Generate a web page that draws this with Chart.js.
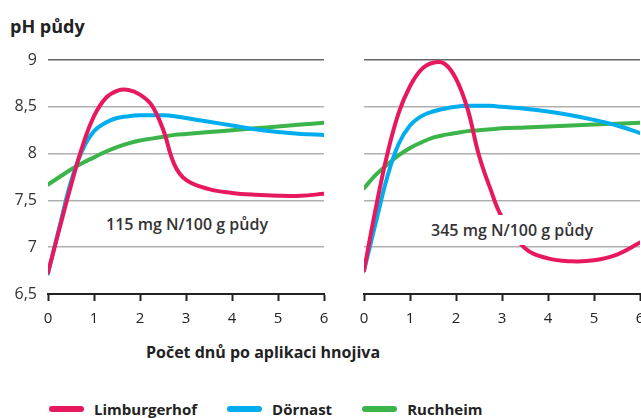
<!DOCTYPE html>
<html>
<head>
<meta charset="utf-8">
<script src="https://cdn.jsdelivr.net/npm/chart.js@4.4.1/dist/chart.umd.min.js"></script>
<style>
  body { margin: 0; width: 641px; height: 418px; overflow: hidden; position: relative; background: #fff; font-family: "Open Sans", sans-serif; color: #222; }
  canvas { position: absolute; top: 0; }
  #lowChart { left: 0; }
  #highChart { left: 330px; }
  #title { position: absolute; left: 10px; top: 14px; font-size: 18px; font-weight: 700; }
  .note { position: absolute; font-size: 16px; font-weight: 600; color: #333; background: #fff; padding: 4px 3px; transform: translate(-50%, -50%); white-space: nowrap; }
  #lowNote { left: 187px; top: 224px; }
  #highNote { left: 512px; top: 230px; }
  #xTitle { position: absolute; left: 263px; top: 352px; transform: translate(-50%, -50%); font-size: 16px; font-weight: 700; white-space: nowrap; }
  #legend { position: absolute; left: 49px; top: 399px; display: flex; align-items: center; font-size: 15px; font-weight: 700; }
  .item { display: flex; align-items: center; margin-right: 30px; }
  .swatch { width: 35px; height: 6px; border-radius: 3px; margin-right: 10px; }
</style>
</head>
<body>
<div id="title">pH půdy</div>
<canvas id="lowChart" width="330" height="340"></canvas>
<canvas id="highChart" width="330" height="340"></canvas>
<div class="note" id="lowNote"></div>
<div class="note" id="highNote"></div>
<div id="xTitle">Počet dnů po aplikaci hnojiva</div>
<div id="legend"></div>
<script>
// days after fertilising (shared sample points for every curve)
const days = [0, 0.25, 0.5, 0.75, 1, 1.25, 1.5, 1.75, 2, 2.25, 2.5, 2.75, 3, 3.5, 4, 4.5, 5, 5.5, 6];

const seriesNames = ['Limburgerhof', 'Dörnast', 'Ruchheim'];
const seriesColors = ['#E8185E', '#00AEEF', '#3BB44A'];
const rateLabels = ['115 mg N/100 g půdy', '345 mg N/100 g půdy'];

// 115 mg N / 100 g
const limburgerhof115 = [6.73, 7.2, 7.66, 8.08, 8.4, 8.59, 8.67, 8.68, 8.63, 8.52, 8.26, 7.88, 7.72, 7.62, 7.58, 7.56, 7.55, 7.55, 7.57];
const dornast115 = [6.72, 7.22, 7.7, 8.04, 8.24, 8.33, 8.38, 8.4, 8.41, 8.41, 8.41, 8.4, 8.38, 8.34, 8.3, 8.26, 8.23, 8.21, 8.2];
const ruchheim115 = [7.67, 7.75, 7.83, 7.9, 7.96, 8.02, 8.07, 8.11, 8.14, 8.16, 8.18, 8.2, 8.21, 8.23, 8.25, 8.27, 8.29, 8.31, 8.33];

// 345 mg N / 100 g
const limburgerhof345 = [6.75, 7.4, 7.98, 8.43, 8.72, 8.9, 8.97, 8.96, 8.8, 8.48, 7.98, 7.62, 7.32, 6.99, 6.88, 6.85, 6.86, 6.92, 7.05];
const dornast345 = [6.75, 7.25, 7.74, 8.1, 8.3, 8.4, 8.45, 8.48, 8.5, 8.51, 8.51, 8.51, 8.5, 8.48, 8.45, 8.41, 8.36, 8.3, 8.22];
const ruchheim345 = [7.63, 7.77, 7.88, 7.98, 8.06, 8.12, 8.17, 8.2, 8.22, 8.24, 8.25, 8.26, 8.27, 8.28, 8.29, 8.3, 8.31, 8.32, 8.33];

const xTicks = [0, 1, 2, 3, 4, 5, 6];
const yTicks = [6.5, 7, 7.5, 8, 8.5, 9];

function panel(id, values, showY) {
    return new Chart(document.getElementById(id), {
        type: 'line',
        data: {
            datasets: values.map((vals, i) => ({
                label: seriesNames[i],
                data: vals.map((y, j) => ({ x: days[j], y: y })),
                borderColor: seriesColors[i],
                borderWidth: 4,
                pointRadius: 0,
                borderCapStyle: 'round',
                tension: 0.4
            }))
        },
        options: {
            responsive: false,
            animation: false,
            devicePixelRatio: 1,
            layout: { padding: showY ? { top: 60, right: 6 } : { top: 60, left: 34, right: 20 } },
            plugins: { legend: { display: false }, tooltip: { enabled: false } },
            scales: {
                x: {
                    type: 'linear', min: 0, max: 6,
                    afterBuildTicks: s => { s.ticks = xTicks.map(v => ({ value: v })); },
                    afterFit: s => { s.height = 46; s.paddingLeft = 0; s.paddingRight = 0; },
                    grid: { drawOnChartArea: false, tickLength: 7, tickWidth: 2, tickColor: '#222' },
                    border: { color: '#222', width: 2 },
                    ticks: { padding: 9, color: '#222', font: { family: 'Open Sans', size: 15 } }
                },
                y: {
                    min: 6.5, max: 9,
                    afterBuildTicks: s => { s.ticks = yTicks.map(v => ({ value: v })); },
                    afterFit: s => { s.width = showY ? 48 : 0; s.paddingTop = 0; s.paddingBottom = 0; },
                    grid: {
                        drawTicks: false, lineWidth: 1.5,
                        color: c => c.tick.value === 9 ? '#666' : (c.tick.value === 6.5 ? 'rgba(0,0,0,0)' : '#b0b0b0')
                    },
                    border: { display: false },
                    ticks: {
                        display: showY, padding: 11, color: '#333',
                        font: { family: 'Open Sans', size: 16 },
                        callback: v => String(v).replace('.', ',')
                    }
                }
            }
        }
    });
}

panel('lowChart', [limburgerhof115, dornast115, ruchheim115], true);
panel('highChart', [limburgerhof345, dornast345, ruchheim345], false);

document.getElementById('lowNote').textContent = rateLabels[0];
document.getElementById('highNote').textContent = rateLabels[1];

const legend = document.getElementById('legend');
seriesNames.forEach((name, i) => {
    const item = document.createElement('div');
    item.className = 'item';
    item.innerHTML = '<span class="swatch" style="background:' + seriesColors[i] + '"></span>' + name;
    legend.appendChild(item);
});
</script>
</body>
</html>
